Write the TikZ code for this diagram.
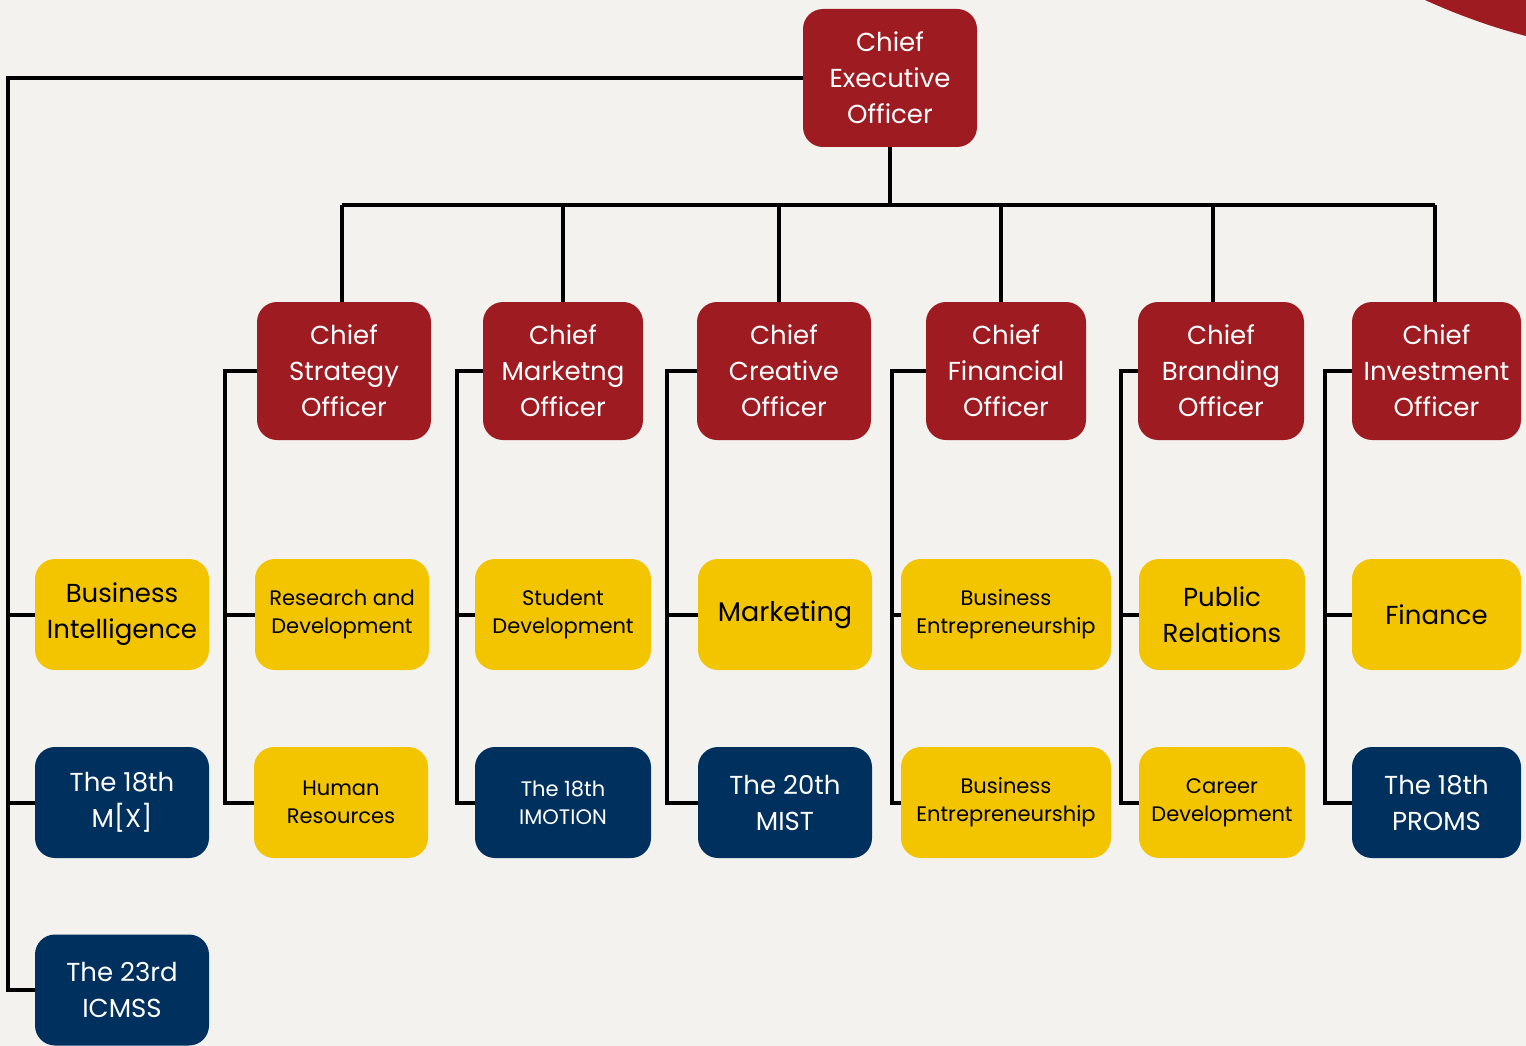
\documentclass[tikz,border=0pt]{standalone}
\usepackage{fontspec}
\setmainfont{Poppins}
\definecolor{bgc}{RGB}{243,242,238}
\definecolor{redc}{RGB}{158,27,34}
\definecolor{yelc}{RGB}{242,197,0}
\definecolor{navc}{RGB}{0,48,94}
\begin{document}
\begin{tikzpicture}[x=1pt,y=-1pt,
  box/.style={rectangle, rounded corners=20pt, align=center, inner sep=0pt},
  big/.style={font=\fontsize{26}{36}\selectfont},
  small/.style={font=\fontsize{21}{28}\selectfont},
  redb/.style={box, big, fill=redc, text=white, minimum height=138},
  yelb/.style={box, fill=yelc, text=black, minimum height=111},
  navb/.style={box, fill=navc, text=white, minimum height=111},
  conn/.style={line width=4pt, draw=black}
]
\fill[bgc] (0,0) rectangle (1526,1046);
\useasboundingbox (0,0) rectangle (1526,1046);
% top-right decoration
\fill[redc] (1425,0) .. controls (1460,16) and (1495,28) .. (1526,36) -- (1526,0) -- cycle;

% CEO
\node[redb, minimum width=174] (ceo) at (890,78) {Chief\\Executive\\Officer};

% Chiefs
\node[redb, minimum width=174] (cso) at (344,371) {Chief\\Strategy\\Officer};
\node[redb, minimum width=160] (cmo) at (563,371) {Chief\\Marketng\\Officer};
\node[redb, minimum width=174] (cco) at (784,371) {Chief\\Creative\\Officer};
\node[redb, minimum width=160] (cfo) at (1006,371) {Chief\\Financial\\Officer};
\node[redb, minimum width=166] (cbo) at (1221,371) {Chief\\Branding\\Officer};
\node[redb, minimum width=169] (cio) at (1436.5,371) {Chief\\Investment\\Officer};

% Row 2
\node[yelb, big, minimum width=174] (bi) at (122,614.5) {Business\\Intelligence};
\node[yelb, small, minimum width=174] (rd) at (342,614.5) {Research and\\Development};
\node[yelb, small, minimum width=176] (sd) at (563,614.5) {Student\\Development};
\node[yelb, font=\fontsize{27}{36}\selectfont, minimum width=174] (mk) at (785,614.5) {Marketing};
\node[yelb, small, minimum width=210] (be1) at (1006,614.5) {Business\\Entrepreneurship};
\node[yelb, big, minimum width=166] (pr) at (1222,614.5) {Public\\Relations};
\node[yelb, big, minimum width=169] (fin) at (1436.5,614.5) {Finance};

% Row 3
\node[navb, big, minimum width=174] (mx) at (122,802.5) {The 18th\\M[X]};
\node[yelb, small, minimum width=174] (hr) at (341,802.5) {Human\\Resources};
\node[navb, small, minimum width=176] (imo) at (563,802.5) {The 18th\\IMOTION};
\node[navb, big, minimum width=174] (mist) at (785,802.5) {The 20th\\MIST};
\node[yelb, small, minimum width=210] (be2) at (1006,802.5) {Business\\Entrepreneurship};
\node[yelb, small, minimum width=166] (cd) at (1222,802.5) {Career\\Development};
\node[navb, big, minimum width=169] (proms) at (1436.5,802.5) {The 18th\\PROMS};

% Row 4
\node[navb, big, minimum width=174] (icm) at (122,990) {The 23rd\\ICMSS};

% guide coordinates
\coordinate (l0) at (8,0);
\coordinate (bus) at (0,205);
\coordinate (l1) at (225,0);
\coordinate (l2) at (457,0);
\coordinate (l3) at (667,0);
\coordinate (l4) at (892,0);
\coordinate (l5) at (1121,0);
\coordinate (l6) at (1325,0);
\coordinate (d1) at (342,205);
\coordinate (d2) at (563,205);
\coordinate (d3) at (779,205);
\coordinate (d4) at (1001,205);
\coordinate (d5) at (1213,205);
\coordinate (d6) at (1435,205);

% CEO left branch
\draw[conn] (ceo.west) -- (ceo.west -| l0) -- (l0 |- icm.west) -- (icm.west);
\draw[conn] (l0 |- bi.west) -- (bi.west);
\draw[conn] (l0 |- mx.west) -- (mx.west);

% CEO down to bus
\draw[conn] (ceo.south) -- (ceo.south |- bus);
\draw[conn] (d1) -- (d6);
\draw[conn] (d1) -- (d1 |- cso.north);
\draw[conn] (d2) -- (d2 |- cmo.north);
\draw[conn] (d3) -- (d3 |- cco.north);
\draw[conn] (d4) -- (d4 |- cfo.north);
\draw[conn] (d5) -- (d5 |- cbo.north);
\draw[conn] (d6) -- (d6 |- cio.north);

% chief branches
\draw[conn] (cso.west) -- (cso.west -| l1) -- (l1 |- hr.west) -- (hr.west);
\draw[conn] (l1 |- rd.west) -- (rd.west);
\draw[conn] (cmo.west) -- (cmo.west -| l2) -- (l2 |- imo.west) -- (imo.west);
\draw[conn] (l2 |- sd.west) -- (sd.west);
\draw[conn] (cco.west) -- (cco.west -| l3) -- (l3 |- mist.west) -- (mist.west);
\draw[conn] (l3 |- mk.west) -- (mk.west);
\draw[conn] (cfo.west) -- (cfo.west -| l4) -- (l4 |- be2.west) -- (be2.west);
\draw[conn] (l4 |- be1.west) -- (be1.west);
\draw[conn] (cbo.west) -- (cbo.west -| l5) -- (l5 |- cd.west) -- (cd.west);
\draw[conn] (l5 |- pr.west) -- (pr.west);
\draw[conn] (cio.west) -- (cio.west -| l6) -- (l6 |- proms.west) -- (proms.west);
\draw[conn] (l6 |- fin.west) -- (fin.west);
\end{tikzpicture}
\end{document}
